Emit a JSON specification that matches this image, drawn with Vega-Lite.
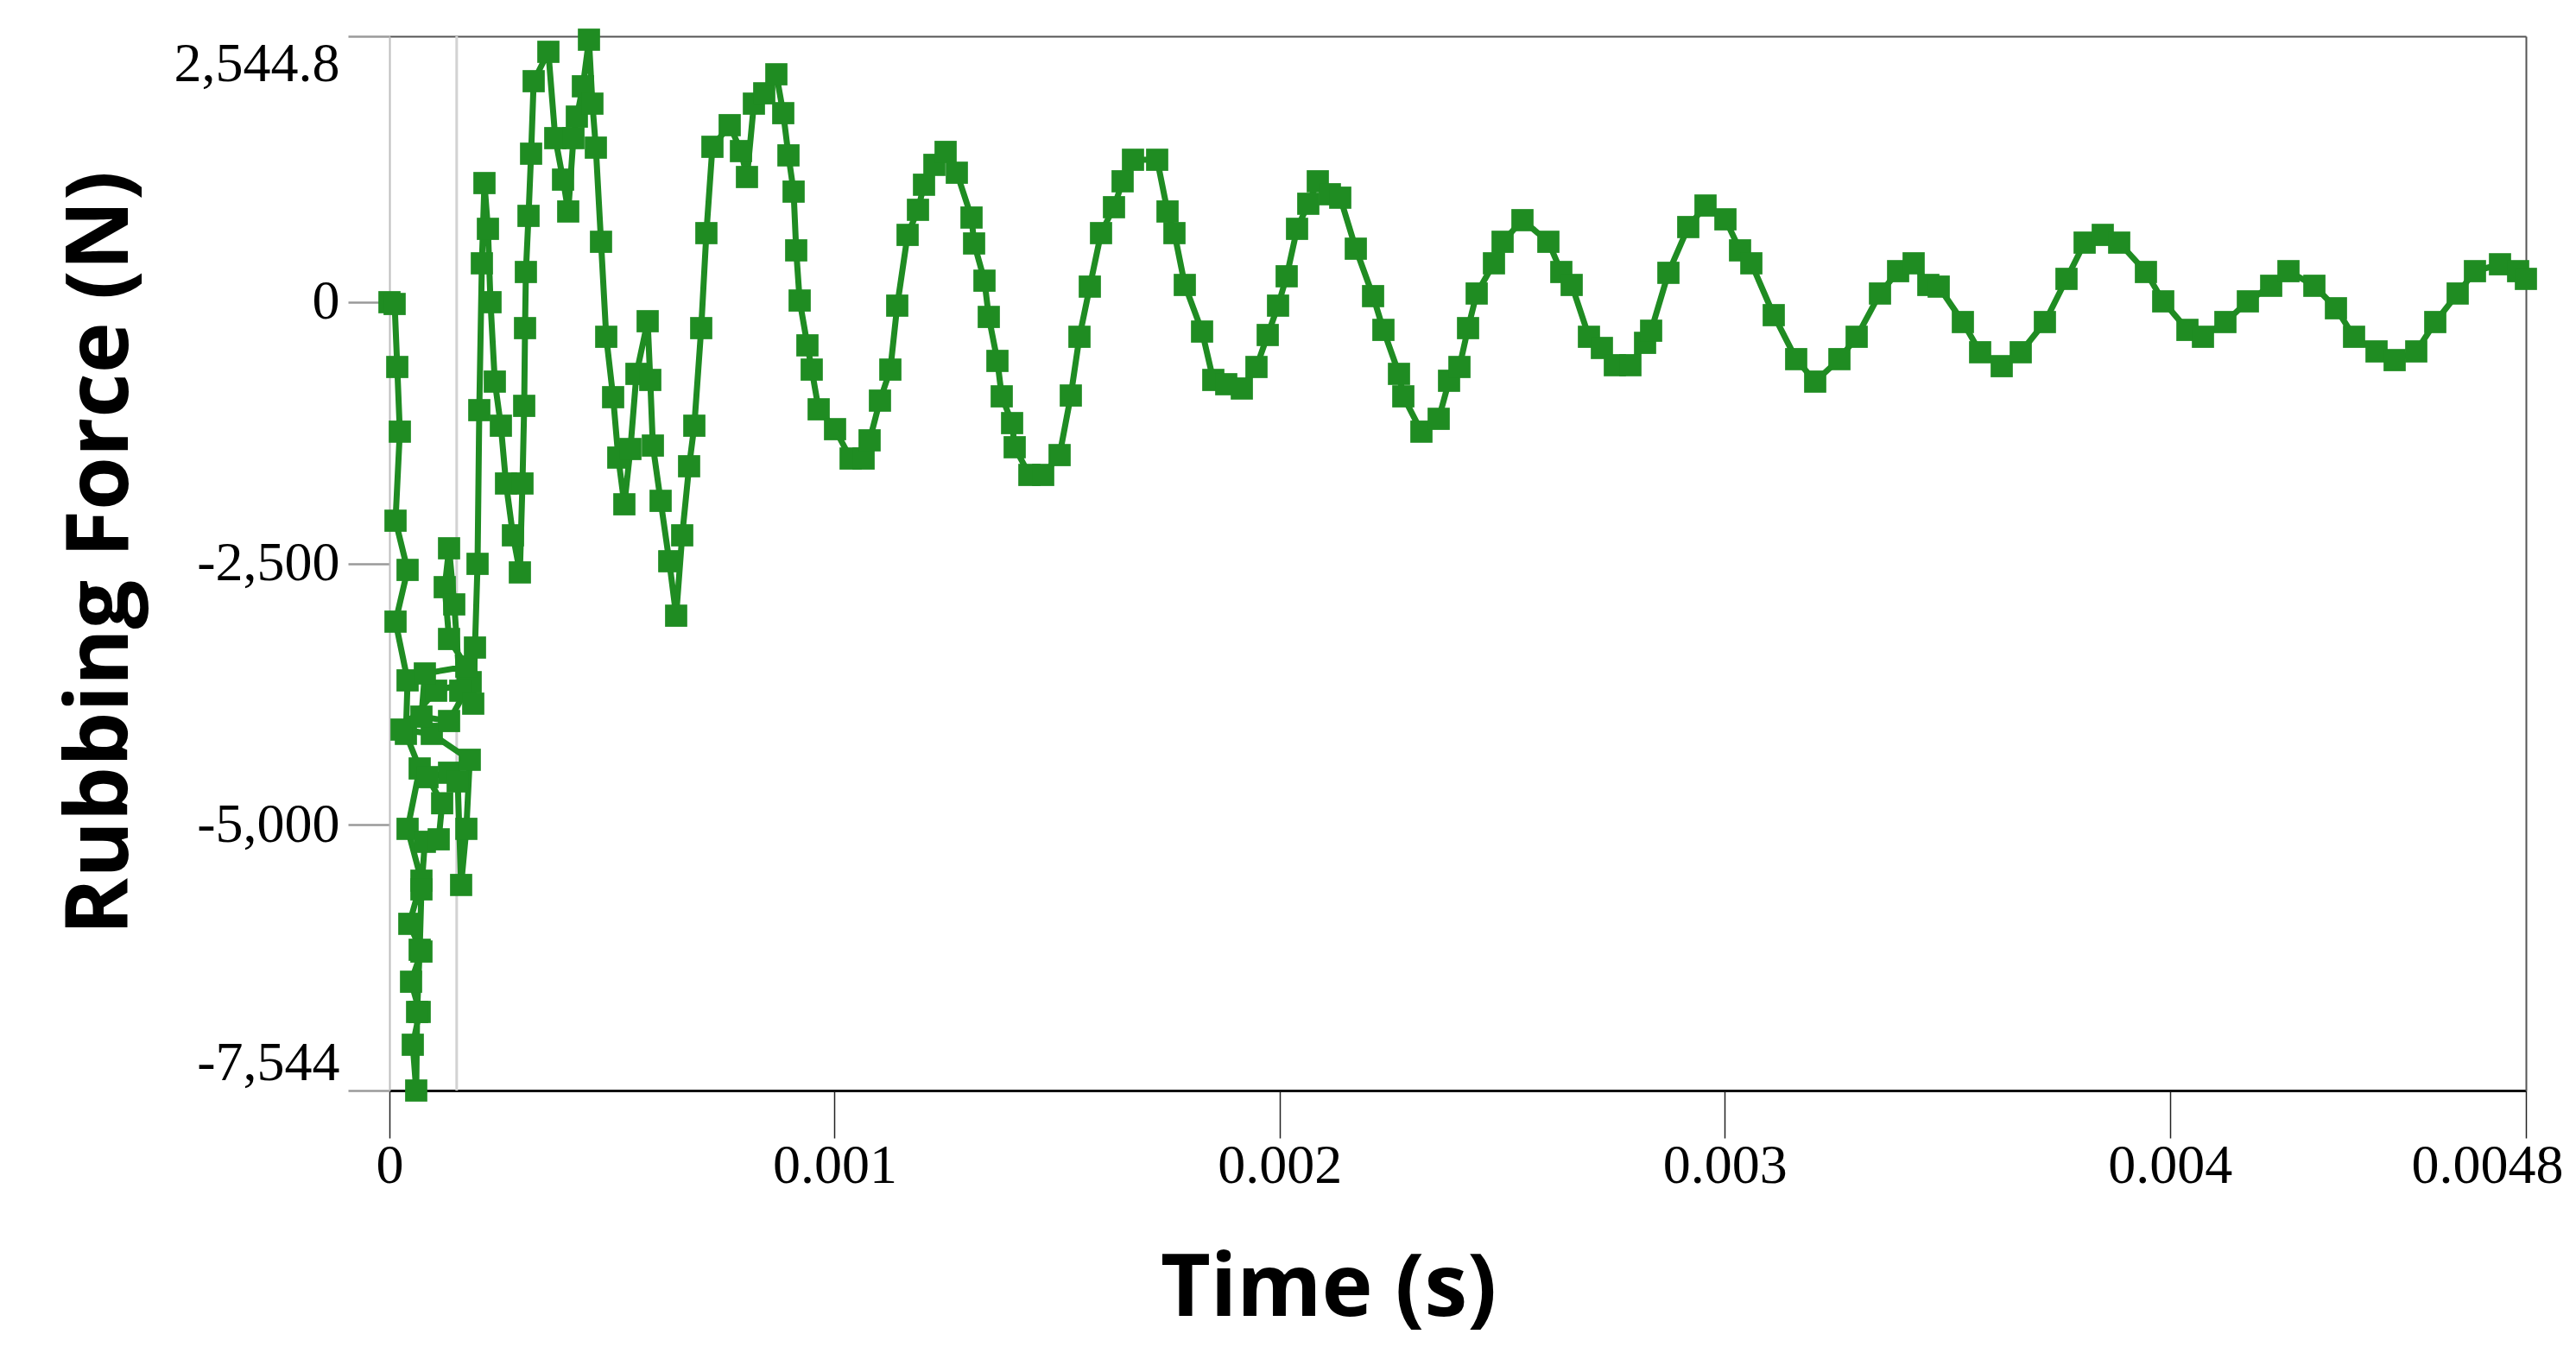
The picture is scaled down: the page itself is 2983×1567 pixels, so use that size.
{
"$schema": "https://vega.github.io/schema/vega-lite/v6.json",
"width": 2474, "height": 1221,
"autosize": {"type": "none"},
"padding": {"left": 451, "top": 42, "right": 58, "bottom": 304},
"background": "white",
"config": {"view": {"stroke": null}},
"datasets": {
"marker": [{"time": 0.000151}],
"force": [
{"n":1,"time":0,"force":0},{"n":2,"time":0.0000116,"force":-17},{"n":3,"time":0.0000175,"force":-620},{"n":4,"time":0.0000233,"force":-1239},{"n":5,"time":0.0000136,"force":-2091},{"n":6,"time":0.0000407,"force":-2562},{"n":7,"time":0.0000136,"force":-3057},{"n":8,"time":0.0000407,"force":-3619},{"n":9,"time":0.0000369,"force":-4131},{"n":10,"time":0.0000679,"force":-4462},
{"n":11,"time":0.0000407,"force":-5040},{"n":12,"time":0.0000718,"force":-5536},{"n":13,"time":0.0000446,"force":-5949},{"n":14,"time":0.0000718,"force":-6214},{"n":15,"time":0.0000485,"force":-6503},{"n":16,"time":0.0000679,"force":-6792},{"n":17,"time":0.0000524,"force":-7106},{"n":18,"time":0.0000601,"force":-7544},{"n":19,"time":0.0000621,"force":-6792},{"n":20,"time":0.0000679,"force":-6197},
{"n":21,"time":0.0000718,"force":-5619},{"n":22,"time":0.0000795,"force":-5164},{"n":23,"time":0.0001106,"force":-5140},{"n":24,"time":0.0001184,"force":-4795},{"n":25,"time":0.0000854,"force":-4545},{"n":26,"time":0.0001339,"force":-4503},{"n":27,"time":0.0001533,"force":-4586},{"n":28,"time":0.0001610,"force":-5577},{"n":29,"time":0.0001727,"force":-5040},{"n":30,"time":0.0001804,"force":-4379},
{"n":30.1,"time":0.0000951,"force":-4131},{"n":30.2,"time":0.0000272,"force":-4090},{"n":30.3,"time":0.0001048,"force":-3718},{"n":30.4,"time":0.0001824,"force":-3636},
{"n":31,"time":0.0001339,"force":-4008},{"n":32,"time":0.0000718,"force":-3966},{"n":33,"time":0.0000795,"force":-3553},{"n":34,"time":0.0001727,"force":-3487},{"n":35,"time":0.0001339,"force":-3223},{"n":36,"time":0.0001242,"force":-2727},{"n":37,"time":0.0001339,"force":-2355},{"n":38,"time":0.0001455,"force":-2892},{"n":39,"time":0.0001591,"force":-3718},{"n":40,"time":0.0001882,"force":-3842},
{"n":41,"time":0.0001921,"force":-3305},{"n":42,"time":0.0001979,"force":-2504},{"n":43,"time":0.0002018,"force":-1033},{"n":44,"time":0.0002076,"force":372},{"n":45,"time":0.0002134,"force":1140},{"n":46,"time":0.0002212,"force":702},{"n":47,"time":0.0002270,"force":0},{"n":48,"time":0.0002367,"force":-760},{"n":49,"time":0.0002503,"force":-1182},{"n":50,"time":0.0002619,"force":-1735},
{"n":51,"time":0.0002774,"force":-2231},{"n":52,"time":0.0002930,"force":-2586},{"n":53,"time":0.0002988,"force":-1735},{"n":54,"time":0.0003027,"force":-992},{"n":55,"time":0.0003046,"force":-248},{"n":56,"time":0.0003065,"force":289},{"n":57,"time":0.0003124,"force":826},{"n":58,"time":0.0003182,"force":1421},{"n":59,"time":0.0003240,"force":2115},{"n":60,"time":0.0003570,"force":2396},
{"n":61,"time":0.0003725,"force":1570},{"n":62,"time":0.0003900,"force":1173},{"n":63,"time":0.0004016,"force":868},{"n":64,"time":0.0004133,"force":1570},{"n":65,"time":0.0004210,"force":1776},{"n":66,"time":0.0004346,"force":2066},{"n":67,"time":0.0004482,"force":2512},{"n":68,"time":0.0004559,"force":1900},{"n":69,"time":0.0004637,"force":1479},{"n":70,"time":0.0004753,"force":578},
{"n":71,"time":0.0004870,"force":-331},{"n":72,"time":0.0005025,"force":-909},{"n":73,"time":0.0005141,"force":-1487},{"n":74,"time":0.0005277,"force":-1934},{"n":75,"time":0.0005413,"force":-1405},{"n":76,"time":0.0005549,"force":-686},{"n":77,"time":0.0005801,"force":-182},{"n":78,"time":0.0005859,"force":-744},{"n":79,"time":0.0005918,"force":-1372},{"n":80,"time":0.0006092,"force":-1901},
{"n":81,"time":0.0006286,"force":-2479},{"n":82,"time":0.0006441,"force":-3000},{"n":83,"time":0.0006577,"force":-2231},{"n":84,"time":0.0006732,"force":-1570},{"n":85,"time":0.0006849,"force":-1182},{"n":86,"time":0.0007004,"force":-248},{"n":87,"time":0.0007120,"force":661},{"n":88,"time":0.0007256,"force":1487},{"n":89,"time":0.0007644,"force":1694},{"n":90,"time":0.0007897,"force":1446},
{"n":91,"time":0.0008032,"force":1198},{"n":92,"time":0.0008188,"force":1900},{"n":93,"time":0.0008420,"force":1999},{"n":94,"time":0.0008692,"force":2181},{"n":95,"time":0.0008847,"force":1809},{"n":96,"time":0.0008964,"force":1405},{"n":97,"time":0.0009080,"force":1058},{"n":98,"time":0.0009138,"force":496},{"n":99,"time":0.0009216,"force":16},{"n":100,"time":0.0009390,"force":-413},
{"n":101,"time":0.0009487,"force":-645},{"n":102,"time":0.0009643,"force":-1025},{"n":103,"time":0.0010011,"force":-1215},{"n":104,"time":0.0010361,"force":-1496},{"n":105,"time":0.0010652,"force":-1496},{"n":106,"time":0.0010787,"force":-1322},{"n":107,"time":0.0011020,"force":-942},{"n":108,"time":0.0011253,"force":-645},{"n":109,"time":0.0011408,"force":-33},{"n":110,"time":0.0011641,"force":644},
{"n":111,"time":0.0011874,"force":884},{"n":112,"time":0.0012010,"force":1124},{"n":113,"time":0.0012243,"force":1314},{"n":114,"time":0.0012495,"force":1438},{"n":115,"time":0.0012747,"force":1239},{"n":116,"time":0.0013077,"force":810},{"n":117,"time":0.0013135,"force":562},{"n":118,"time":0.0013368,"force":206},{"n":119,"time":0.0013465,"force":-141},{"n":120,"time":0.0013659,"force":-562},
{"n":121,"time":0.0013756,"force":-901},{"n":122,"time":0.0013989,"force":-1157},{"n":123,"time":0.0014047,"force":-1388},{"n":124,"time":0.0014377,"force":-1653},{"n":125,"time":0.0014687,"force":-1653},{"n":126,"time":0.0015056,"force":-1463},{"n":127,"time":0.0015308,"force":-893},{"n":128,"time":0.0015502,"force":-331},{"n":129,"time":0.0015735,"force":149},{"n":130,"time":0.0015987,"force":661},
{"n":131,"time":0.0016278,"force":909},{"n":132,"time":0.0016472,"force":1157},{"n":133,"time":0.0016705,"force":1363},{"n":134,"time":0.0017248,"force":1363},{"n":135,"time":0.0017481,"force":868},{"n":136,"time":0.0017636,"force":661},{"n":137,"time":0.0017869,"force":165},{"n":138,"time":0.0018257,"force":-281},{"n":139,"time":0.0018509,"force":-744},{"n":140,"time":0.0018800,"force":-785},
{"n":141,"time":0.0019150,"force":-826},{"n":142,"time":0.0019479,"force":-620},{"n":143,"time":0.0019732,"force":-314},{"n":144,"time":0.0019964,"force":-33},{"n":145,"time":0.0020158,"force":248},{"n":146,"time":0.0020391,"force":702},{"n":147,"time":0.0020643,"force":942},{"n":148,"time":0.0020857,"force":1157},{"n":149,"time":0.0021128,"force":1033},{"n":150,"time":0.0021361,"force":1000},
{"n":151,"time":0.0021711,"force":512},{"n":152,"time":0.0022099,"force":58},{"n":153,"time":0.0022331,"force":-265},{"n":154,"time":0.0022681,"force":-686},{"n":155,"time":0.0022778,"force":-901},{"n":156,"time":0.0023185,"force":-1239},{"n":157,"time":0.0023573,"force":-1116},{"n":158,"time":0.0023806,"force":-752},{"n":159,"time":0.0024039,"force":-620},{"n":160,"time":0.0024233,"force":-248},
{"n":161,"time":0.0024427,"force":83},{"n":162,"time":0.0024815,"force":372},{"n":163,"time":0.0025009,"force":578},{"n":164,"time":0.0025455,"force":785},{"n":165,"time":0.0026037,"force":578},{"n":166,"time":0.0026328,"force":289},{"n":167,"time":0.0026561,"force":165},{"n":168,"time":0.0026949,"force":-331},{"n":169,"time":0.0027240,"force":-438},{"n":170,"time":0.0027531,"force":-603},
{"n":171,"time":0.0027880,"force":-603},{"n":172,"time":0.0028210,"force":-389},{"n":173,"time":0.0028346,"force":-273},{"n":174,"time":0.0028734,"force":281},{"n":175,"time":0.0029180,"force":719},{"n":176,"time":0.0029568,"force":925},{"n":177,"time":0.0030015,"force":793},{"n":178,"time":0.0030344,"force":496},{"n":179,"time":0.0030597,"force":372},{"n":180,"time":0.0031101,"force":-124},
{"n":181,"time":0.0031605,"force":-545},{"n":182,"time":0.0032032,"force":-760},{"n":183,"time":0.0032576,"force":-545},{"n":184,"time":0.0032964,"force":-331},{"n":185,"time":0.0033488,"force":83},{"n":186,"time":0.0033895,"force":297},{"n":187,"time":0.0034244,"force":372},{"n":188,"time":0.0034574,"force":165},{"n":189,"time":0.0034807,"force":149},{"n":190,"time":0.0035350,"force":-190},
{"n":191,"time":0.0035738,"force":-479},{"n":192,"time":0.0036223,"force":-612},{"n":193,"time":0.0036650,"force":-479},{"n":194,"time":0.0037193,"force":-190},{"n":195,"time":0.0037678,"force":223},{"n":196,"time":0.0038086,"force":570},{"n":197,"time":0.0038493,"force":644},{"n":198,"time":0.0038862,"force":570},{"n":199,"time":0.0039463,"force":289},{"n":200,"time":0.0039851,"force":8},
{"n":201,"time":0.0040395,"force":-265},{"n":202,"time":0.0040744,"force":-331},{"n":203,"time":0.0041248,"force":-190},{"n":204,"time":0.0041753,"force":8},{"n":205,"time":0.0042277,"force":157},{"n":206,"time":0.0042665,"force":297},{"n":207,"time":0.0043247,"force":157},{"n":208,"time":0.0043732,"force":-58},{"n":209,"time":0.0044139,"force":-331},{"n":210,"time":0.0044644,"force":-471},
{"n":211,"time":0.0045051,"force":-554},{"n":212,"time":0.0045536,"force":-471},{"n":213,"time":0.0045963,"force":-190},{"n":214,"time":0.0046467,"force":83},{"n":215,"time":0.0046855,"force":297},{"n":216,"time":0.0047418,"force":363},{"n":217,"time":0.0047825,"force":297},{"n":218,"time":0.0048,"force":223}
]
},
"layer": [
{
"data": {"name": "marker"},
"mark": {"type": "rule", "color": "#d2d2d2", "strokeWidth": 3},
"encoding": {
"x": {"field": "time", "type": "quantitative", "scale": {"domain": [0, 0.0048], "nice": false, "zero": false}, "axis": null}
}
},
{
"data": {"name": "force"},
"mark": {"type": "line", "color": "#1f8c22", "strokeWidth": 7, "interpolate": "linear"},
"encoding": {
"x": {"field": "time", "type": "quantitative", "scale": {"domain": [0, 0.0048], "nice": false, "zero": false},
"axis": {"values": [0, 0.001, 0.002, 0.003, 0.004, 0.0048], "labelExpr": "format(datum.value, '.4~f')", "grid": false,
"domainColor": "#111111", "domainWidth": 3, "tickColor": "#222222", "tickWidth": 1.5, "tickSize": 55,
"labelFont": "Liberation Serif", "labelFontSize": 64, "labelColor": "#000000", "labelPadding": 0, "labelBaseline": "top", "labelLimit": 400,
"labelOffset": {"condition": {"test": "datum.value > 0.0047", "value": -45}, "value": 0},
"labelOverlap": false, "labelBound": false, "labelFlush": false,
"title": "Time (s)", "titleFont": "Open Sans", "titleFontWeight": "bold", "titleFontSize": 100, "titleColor": "#000000",
"titleX": 1087, "titleY": 260, "titleAlign": "center", "titleBaseline": "alphabetic", "titleAnchor": null}},
"y": {"field": "force", "type": "quantitative", "scale": {"domain": [-7544, 2544.8], "nice": false, "zero": false},
"axis": {"values": [2544.8, 0, -2500, -5000, -7544], "labelExpr": "replace(format(datum.value, ',.1~f'), '\u2212', '-')", "grid": false,
"domainColor": "#bdbdbd", "domainWidth": 2, "tickColor": "#9a9a9a", "tickWidth": 2.5, "tickSize": 48,
"labelFont": "Liberation Serif", "labelFontSize": 64, "labelColor": "#000000", "labelPadding": 10, "labelFlush": true, "labelOverlap": false, "labelLimit": 400,
"title": "Rubbing Force (N)", "titleFont": "Open Sans", "titleFontWeight": "bold", "titleFontSize": 100, "titleColor": "#000000",
"titleAngle": -90, "titleX": -304, "titleY": 598, "titleAlign": "center", "titleBaseline": "alphabetic"}},
"order": {"field": "n", "type": "quantitative"}
}
},
{
"data": {"name": "force"},
"mark": {"type": "point", "shape": "square", "filled": true, "size": 660, "color": "#1f8c22", "opacity": 1},
"encoding": {
"x": {"field": "time", "type": "quantitative", "scale": {"domain": [0, 0.0048], "nice": false, "zero": false},
"axis": {"orient": "top", "labels": false, "ticks": false, "grid": false, "title": null, "domainColor": "#555555", "domainWidth": 2}},
"y": {"field": "force", "type": "quantitative", "scale": {"domain": [-7544, 2544.8], "nice": false, "zero": false},
"axis": {"orient": "right", "labels": false, "ticks": false, "grid": false, "title": null, "domainColor": "#555555", "domainWidth": 2}}
}
}
],
"resolve": {"axis": {"x": "independent", "y": "independent"}}
}
